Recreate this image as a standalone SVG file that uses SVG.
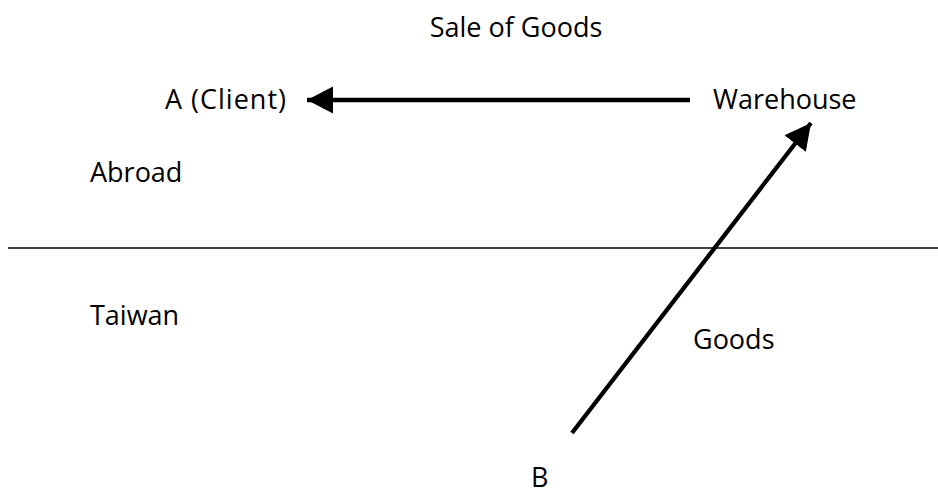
<svg xmlns="http://www.w3.org/2000/svg" width="938" height="495" viewBox="0 0 938 495">
<style>
text{font-family:"Open Sans","Noto Sans",sans-serif;font-size:27px;fill:#000}
.c{stroke:#000;stroke-width:4.3;fill:none}
</style>
<defs>
<marker id="ah" markerUnits="userSpaceOnUse" markerWidth="30" markerHeight="30" refX="26" refY="13.5" orient="auto">
<path d="M0,0 L26,13.5 L0,27 Z" fill="#000"/>
</marker>
</defs>
<rect width="938" height="495" fill="#fff"/>
<line x1="8" y1="248" x2="938" y2="248" stroke="#000" stroke-width="1.5"/>
<g id="connectors">
<line class="c" x1="690" y1="100" x2="307" y2="100" marker-end="url(#ah)"/>
<line class="c" x1="572" y1="433" x2="811" y2="123" marker-end="url(#ah)"/>
</g>
<g id="title"><text x="516" y="37" text-anchor="middle">Sale of Goods</text></g>
<g id="client"><text x="165" y="109" textLength="121" lengthAdjust="spacing">A (Client)</text></g>
<g id="warehouse"><text x="713" y="109">Warehouse</text></g>
<g id="abroad"><text x="90" y="182">Abroad</text></g>
<g id="taiwan"><text x="90" y="325">Taiwan</text></g>
<g id="goods"><text x="693" y="349">Goods</text></g>
<g id="b"><text x="531" y="487">B</text></g>
</svg>
